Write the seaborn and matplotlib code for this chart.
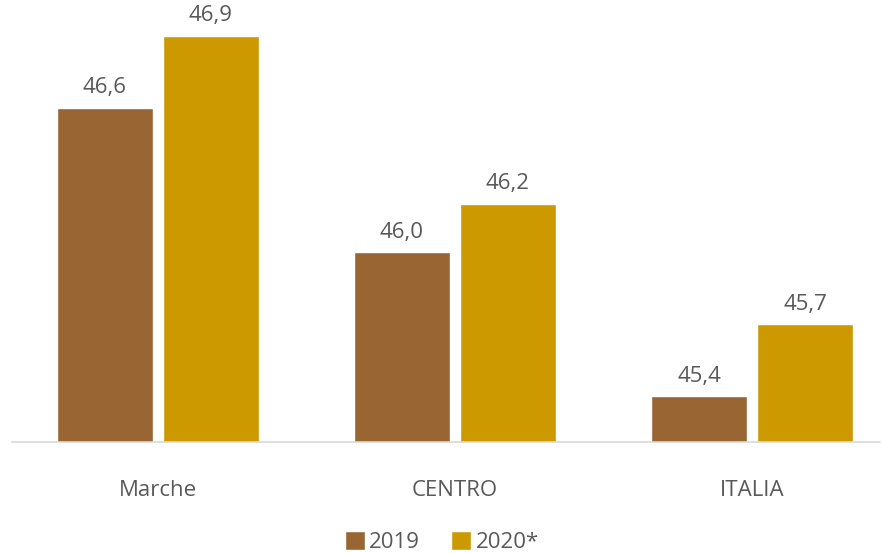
import pandas as pd
import seaborn as sns
import matplotlib.pyplot as plt
from matplotlib.patches import Patch

categories = ["Marche", "CENTRO", "ITALIA"]
years = ["2019", "2020*"]
values_2019 = [46.6, 46.0, 45.4]
values_2020 = [46.9, 46.2, 45.7]
colors = ["#996633", "#CC9900"]
TEXT = "#595959"

df = pd.DataFrame({
    "area": categories * 2,
    "anno": [years[0]] * 3 + [years[1]] * 3,
    "valore": values_2019 + values_2020,
})

sns.set_style("white")
plt.rcParams["font.family"] = ["Open Sans", "DejaVu Sans"]

fig = plt.figure(figsize=(8.84, 5.53), dpi=100)
ax = fig.add_axes([12 / 884, 111 / 553, 868 / 884, 442 / 553])

sns.barplot(data=df, x="area", y="valore", hue="anno", palette=colors,
            width=0.714, gap=0.094, ax=ax, legend=False, saturation=1)

for cont, vals in zip(ax.containers, [values_2019, values_2020]):
    ax.bar_label(cont, labels=[f"{v:.1f}".replace(".", ",") for v in vals],
                 padding=7, fontsize=16, color=TEXT)

ax.set_ylim(45.21, 47.05)
ax.set_xlim(-0.49, 2.43)
ax.set_xlabel("")
ax.set_ylabel("")
ax.set_yticks([])
ax.tick_params(axis="x", length=0, pad=27, labelsize=16, labelcolor=TEXT)
for s in ["top", "left", "right"]:
    ax.spines[s].set_visible(False)
ax.spines["bottom"].set_color("#d9d9d9")
ax.spines["bottom"].set_linewidth(1.2)

handles = [Patch(facecolor=c, label=y) for c, y in zip(colors, years)]
fig.legend(handles=handles, loc="center", bbox_to_anchor=(0.5, 11 / 553),
           ncol=2, frameon=False, fontsize=16, handlelength=0.9, handleheight=0.9,
           handletextpad=0.2, columnspacing=1.4, labelcolor=TEXT)

fig.savefig("out.png", dpi=100)
